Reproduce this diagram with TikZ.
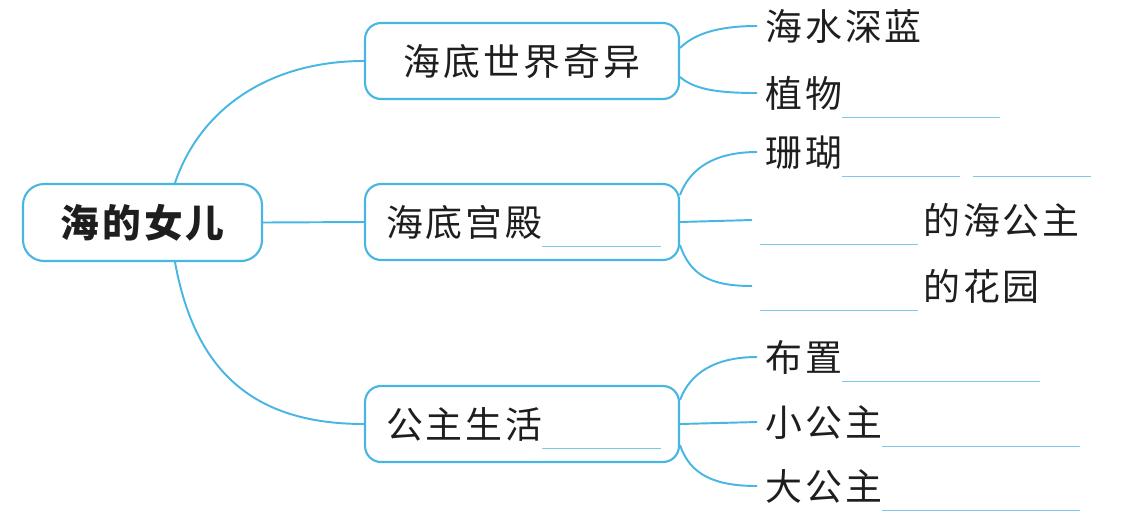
\documentclass[tikz,border=0pt]{standalone}
\usepackage{fontspec}
\setmainfont[LetterSpace=8]{Noto Sans CJK SC}
\usepackage{tikz}
\usetikzlibrary{positioning}
\definecolor{mapblue}{RGB}{72,182,226}
\definecolor{blankblue}{RGB}{125,202,232}
\definecolor{inkgray}{RGB}{30,30,30}
\newcommand{\blank}[1]{\textcolor{blankblue}{\rule[-0.22cm]{#1}{0.8pt}}}
\tikzstyle{rootbox} = [rectangle, rounded corners=0.42cm, minimum width=4.78cm, minimum height=1.54cm, text centered, draw=mapblue, line width=1.2pt, font=\fontsize{22}{26}\selectfont\bfseries]
\tikzstyle{topic} = [rectangle, rounded corners=0.32cm, minimum width=6.28cm, minimum height=1.52cm, text centered, draw=mapblue, line width=1.2pt, text height=0.56cm, text depth=0cm]
\tikzstyle{topicleft} = [topic, text width=5.44cm, align=left, inner xsep=0.42cm]
\tikzstyle{leaf} = [anchor=west, inner xsep=0.16cm, inner ysep=0cm, text height=0.56cm, text depth=0cm]
\tikzstyle{connect} = [mapblue, line width=1.1pt]

\begin{document}
\begin{tikzpicture}[x=0.02cm, y=-0.02cm, text=inkgray, font=\fontsize{21}{25}\selectfont]
			\useasboundingbox (0,0) rectangle (1121,512);
			\node (root) [rootbox] at (142.5,222.5) {海的女儿};
			\node (world) [topic] at (522,61) {海底世界奇异};
			\node (palace) [topicleft] at (522,222) {海底宫殿\blank{2.38cm}};
			\node (life) [topicleft] at (522,424) {公主生活\blank{2.38cm}};
			%-----------------------------------------------
			\node (deepsea) [leaf] at (757,26) {海水深蓝};
			\node (plants) [leaf] at (757,93) {植物\blank{3.16cm}};
			\node (coral) [leaf] at (757,152) {珊瑚\blank{2.36cm}\hspace{0.26cm}\blank{2.36cm}};
			\node (seaprincess) [leaf] at (752,220) {\blank{3.16cm}\hspace{0.1cm}的海公主};
			\node (garden) [leaf] at (752,286) {\blank{3.16cm}\hspace{0.1cm}的花园};
			\node (layout) [leaf] at (757,357) {布置\blank{3.96cm}};
			\node (younger) [leaf] at (757,422) {小公主\blank{3.96cm}};
			\node (eldest) [leaf] at (757,486) {大公主\blank{3.96cm}};
			%-----------------------------------------------
			\draw [connect] ([xshift=0.65cm]root.north) .. controls +(25,-74) and +(-95,0) .. (world.west);
			\draw [connect] (root.east) -- (palace.west);
			\draw [connect] ([xshift=0.65cm]root.south) .. controls +(20,110) and +(-110,0) .. (life.west);
			%-----------------------------------------------
			\draw [connect] ([yshift=0.26cm]world.east) .. controls +(15,-15) and +(-37,0) .. (deepsea.west);
			\draw [connect] ([yshift=-0.32cm]world.east) .. controls +(15,13) and +(-37,0) .. (plants.west);
			\draw [connect] ([yshift=0.54cm]palace.east) .. controls +(10,-27) and +(-42,0) .. (coral.west);
			\draw [connect] (palace.east) -- (seaprincess.west);
			\draw [connect] ([yshift=-0.46cm]palace.east) .. controls +(10,30) and +(-42,0) .. (garden.west);
			\draw [connect] ([yshift=0.48cm]life.east) .. controls +(10,-27) and +(-42,0) .. (layout.west);
			\draw [connect] (life.east) -- (younger.west);
			\draw [connect] ([yshift=-0.42cm]life.east) .. controls +(10,30) and +(-42,0) .. (eldest.west);
\end{tikzpicture}
\end{document}
